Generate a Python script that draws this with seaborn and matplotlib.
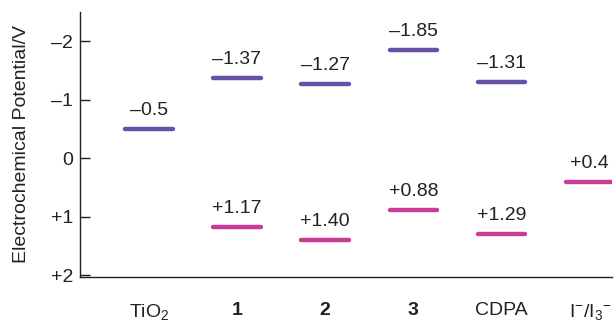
import numpy as np
import seaborn as sns
import matplotlib.pyplot as plt

sns.set_theme(style="white")
plt.rcParams['font.family'] = ['Liberation Sans', 'DejaVu Sans']
plt.rcParams['mathtext.fontset'] = 'custom'
plt.rcParams['mathtext.rm'] = 'Liberation Sans'
plt.rcParams['mathtext.it'] = 'Liberation Sans'
plt.rcParams['mathtext.bf'] = 'Liberation Sans:bold'

# data
categories = ["TiO$_2$", "1", "2", "3", "CDPA", "I$^{-}$/I$_3$$^{-}$"]
bold_cats = [False, True, True, True, False, False]
upper_idx = [0, 1, 2, 3, 4]
upper_vals = [-0.5, -1.37, -1.27, -1.85, -1.31]
upper_txt = ["\u20130.5", "\u20131.37", "\u20131.27", "\u20131.85", "\u20131.31"]
lower_idx = [1, 2, 3, 4, 5]
lower_vals = [1.17, 1.40, 0.88, 1.29, 0.4]
lower_txt = ["+1.17", "+1.40", "+0.88", "+1.29", "+0.4"]
ytick_vals = [-2, -1, 0, 1, 2]
ytick_txt = ["\u20132", "\u20131", "0", "+1", "+2"]

purple = "#6650a8"
magenta = "#c83c98"
ink = "#222222"
fs = 14

fig = plt.figure(figsize=(6.15, 3.22), dpi=100)
ax = fig.add_axes([0.130, 0.140, 0.865, 0.823])

# energy levels as short horizontal bars
half = 0.27
ax.hlines(upper_vals, np.array(upper_idx) - half, np.array(upper_idx) + half,
          color=purple, linewidth=3.2, capstyle='round')
ax.hlines(lower_vals, np.array(lower_idx) - half, np.array(lower_idx) + half,
          color=magenta, linewidth=3.2, capstyle='round')

for x, v, t in zip(upper_idx + lower_idx, upper_vals + lower_vals, upper_txt + lower_txt):
    ax.annotate(t, (x, v), xytext=(0, 7), textcoords='offset points',
                ha='center', va='bottom', fontsize=fs, color=ink)

ax.set_xlim(-0.78, 5.25)
ax.set_ylim(2.03, -2.5)
ax.set_yticks(ytick_vals)
ax.set_yticklabels(ytick_txt, fontsize=fs, color=ink)
ax.set_xticks(range(len(categories)))
ax.set_xticklabels(categories, fontsize=fs, color=ink)
for lab, b in zip(ax.get_xticklabels(), bold_cats):
    if b:
        lab.set_fontweight('bold')
ax.tick_params(axis='y', direction='in', length=7, width=1, color=ink, left=True, pad=5)
ax.tick_params(axis='x', length=0, pad=18)
ax.set_ylabel("Electrochemical Potential/V", fontsize=fs, color=ink, labelpad=15)

sns.despine(ax=ax, top=True, right=True)
for s in ['left', 'bottom']:
    ax.spines[s].set_color(ink)
    ax.spines[s].set_linewidth(1)

fig.savefig("out.png", dpi=100)
